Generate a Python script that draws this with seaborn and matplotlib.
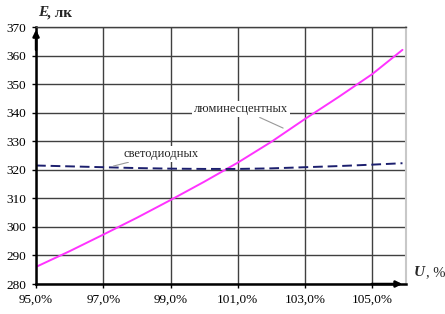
import matplotlib
matplotlib.use('Agg')
import matplotlib.pyplot as plt
import numpy as np
import pandas as pd
import seaborn as sns

# voltage, % of nominal
u_lum = [95, 96, 97, 98, 99, 100, 101, 102, 103, 104, 105, 105.9]
e_lum = [286, 291.5, 297.3, 303.2, 309.4, 315.8, 322.5, 329.8, 337.8, 345.5, 353.5, 362]

u_led = [95, 96, 97, 98, 99, 100, 101, 102, 103, 104, 105, 105.9]
e_led = [321.5, 321.2, 320.9, 320.6, 320.4, 320.3, 320.3, 320.5, 320.9, 321.3, 321.8, 322.3]

x_ticks = [95, 97, 99, 101, 103, 105]
y_ticks = [280, 290, 300, 310, 320, 330, 340, 350, 360, 370]

df = pd.concat([
    pd.DataFrame({'U': u_lum, 'E': e_lum, 'type': 'люминесцентных'}),
    pd.DataFrame({'U': u_led, 'E': e_led, 'type': 'светодиодных'}),
])


def main():
    sns.set_style('white')
    plt.rcParams['font.family'] = ['Liberation Serif', 'DejaVu Serif']

    fig = plt.figure(figsize=(4.45, 3.14), dpi=100)
    ax = fig.add_axes([0.081, 0.0955, 0.831, 0.8185])

    sns.lineplot(data=df, x='U', y='E', hue='type', style='type',
                 palette={'люминесцентных': '#ff33ff', 'светодиодных': '#1c1f6e'},
                 dashes={'люминесцентных': '', 'светодиодных': (5, 2.5)},
                 linewidth=1.4, legend=False, ax=ax)

    ax.set_xlim(95, 106)
    ax.set_ylim(280, 370)
    ax.set_xticks(x_ticks)
    ax.set_yticks(y_ticks)
    ax.set_xticklabels([('%.1f%%' % v).replace('.', ',') for v in x_ticks])
    ax.tick_params(axis='both', labelsize=9.5, length=3, width=1, direction='out',
                   colors='black', pad=4, left=True, bottom=True)

    ax.grid(True, color='#404040', linewidth=1.0)
    ax.set_axisbelow(True)

    ax.spines['top'].set_color('#404040')
    ax.spines['top'].set_linewidth(1.0)
    ax.spines['right'].set_color('#c8c8c8')
    ax.spines['right'].set_linewidth(1.5)
    ax.spines['left'].set_linewidth(1.8)
    ax.spines['bottom'].set_linewidth(1.8)
    ax.spines['left'].set_color('black')
    ax.spines['bottom'].set_color('black')

    ax.set_xlabel('')
    ax.set_ylabel('')

    # axis arrows
    ax.annotate('', xy=(0, 1.0), xycoords='axes fraction', xytext=(0, 0.9),
                arrowprops=dict(arrowstyle='-|>', color='black', lw=1.8,
                                mutation_scale=9))
    ax.annotate('', xy=(0.998, 0), xycoords='axes fraction', xytext=(0.9, 0),
                arrowprops=dict(arrowstyle='-|>', color='black', lw=1.8,
                                mutation_scale=9))

    # axis titles
    fig.text(38 / 445, 1 - 13 / 314, 'E', fontsize=11, fontweight='bold',
             style='italic', va='center')
    fig.text(47 / 445, 1 - 13 / 314, ', лк', fontsize=11, fontweight='bold',
             va='center')
    fig.text(414 / 445, 1 - 273 / 314, 'U', fontsize=11, fontweight='bold',
             style='italic', va='center')
    fig.text(426 / 445, 1 - 273 / 314, ', %', fontsize=10.5, va='center')

    # series labels with leader lines
    ax.annotate('люминесцентных', xy=(102.35, 334.6), xytext=(99.7, 341.3),
                fontsize=9, va='center', ha='left',
                bbox=dict(boxstyle='square,pad=0.15', fc='white', ec='none'),
                arrowprops=dict(arrowstyle='-', color='#999999', lw=0.8,
                                shrinkA=1, shrinkB=0))
    ax.annotate('светодиодных', xy=(97.3, 321.3), xytext=(97.6, 325.5),
                fontsize=9, va='center', ha='left',
                bbox=dict(boxstyle='square,pad=0.15', fc='white', ec='none'),
                arrowprops=dict(arrowstyle='-', color='#999999', lw=0.8,
                                shrinkA=1, shrinkB=0))

    fig.savefig('out.png', dpi=100)
    plt.close()


main()
